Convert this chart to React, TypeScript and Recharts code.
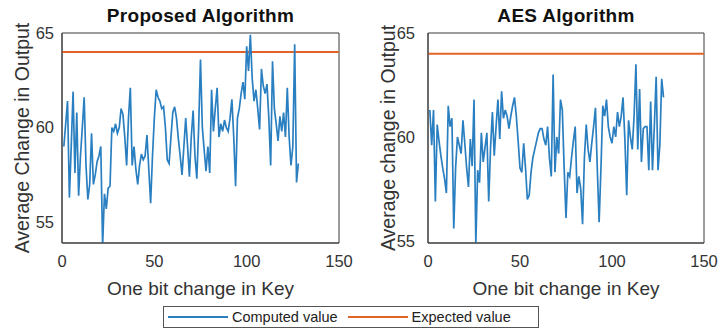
import React from "react";
import { LineChart, Line, XAxis, YAxis, ReferenceLine, ReferenceArea } from "recharts";

// average number of changed output bits when one key bit is flipped (bits 1..128)
const proposedValues = [
  59.0, 60.2, 61.4, 56.3, 59.0, 61.9, 57.6, 60.8, 56.4, 58.5, 60.0, 61.6, 58.0, 56.2, 57.0, 59.7,
  57.0, 57.5, 58.2, 58.5, 59.0, 53.8, 56.5, 55.7, 56.8, 56.9, 60.0, 59.8, 60.2, 59.7, 60.0, 61.0,
  60.7, 59.5, 58.0, 60.5, 62.1, 58.0, 59.0, 57.8, 57.0, 58.0, 58.6, 58.3, 58.5, 59.6, 57.8, 56.0,
  58.5, 60.5, 62.0, 61.6, 61.4, 61.0, 61.1, 60.0, 58.3, 58.1, 59.5, 60.8, 61.1, 60.5, 59.4, 58.5,
  57.5, 59.0, 60.5, 59.0, 57.4, 59.5, 60.9, 58.5, 57.3, 60.0, 63.6, 60.0, 58.8, 57.7, 59.0, 57.6,
  62.0, 59.8, 61.0, 62.1, 59.5, 60.2, 59.8, 60.4, 60.0, 59.8, 60.5, 61.5, 59.5, 56.9, 60.5, 61.0,
  61.8, 62.4, 61.5, 64.3, 63.0, 64.9, 62.6, 61.4, 62.0, 61.0, 59.9, 63.1, 62.2, 61.8, 62.3, 60.5,
  58.0, 63.5, 61.0, 60.2, 59.3, 60.6, 59.8, 60.8, 59.5, 62.1, 59.5, 58.0, 59.0, 64.4, 57.1, 58.1,
];

const aesValues = [
  61.3, 59.6, 61.3, 56.9, 60.6, 59.8, 59.1, 58.5, 58.0, 57.3, 61.5, 60.5, 60.9, 55.6, 58.5, 60.0,
  59.6, 59.2, 60.8, 59.7, 58.5, 57.6, 59.9, 58.6, 61.8, 54.9, 58.4, 57.8, 60.2, 58.8, 59.5, 60.2,
  56.9, 59.5, 61.2, 59.1, 60.5, 61.8, 59.9, 62.2, 60.9, 61.3, 61.0, 60.4, 61.0, 61.5, 61.9, 61.0,
  59.8, 58.5, 58.3, 59.7, 58.5, 57.0, 57.2, 58.3, 59.0, 59.4, 59.8, 60.2, 60.4, 60.4, 59.9, 59.6,
  60.5, 59.0, 58.1, 63.0, 58.3, 60.0, 59.2, 61.8, 61.3, 58.5, 56.1, 58.3, 58.1, 59.0, 59.8, 60.5,
  57.3, 58.1, 57.5, 55.8, 59.0, 60.6, 59.4, 58.8, 59.7, 60.5, 61.4, 58.5, 55.9, 58.5, 61.5, 61.0,
  61.8, 60.5, 60.0, 59.7, 60.5, 60.0, 61.2, 60.5, 61.0, 61.9, 59.9, 57.2, 60.8, 60.0, 59.4, 61.0,
  63.5, 59.4, 62.3, 58.8, 60.4, 60.5, 60.5, 58.4, 61.7, 58.4, 60.5, 62.9, 58.4, 59.6, 62.8, 61.9,
];

const expectedValue = 64;
const xTicks = [0, 50, 100, 150];
const proposedYTicks = [55, 60, 65];
const aesYTicks = [55, 60, 65];

const proposedData = proposedValues.map((v, i) => ({ bit: i + 1, value: v }));
const aesData = aesValues.map((v, i) => ({ bit: i + 1, value: v }));

const BLUE = "#2a7fc1";
const ORANGE = "#e0632a";
const AXIS = "#3a3a3a";
const TEXT = "#333";
const FONT = "'Liberation Sans', Arial, sans-serif";

interface PanelProps {
  data: { bit: number; value: number }[];
  title: string;
  yLabel: string;
  yDomain: [number, number];
  yTicks: number[];
  left: number;
  width: number;
  rightMargin: number;
  yAxisWidth: number;
  yLabelX: number;
  yTickMargin: number;
}

function Panel({ data, title, yLabel, yDomain, yTicks, left, width, rightMargin, yAxisWidth, yLabelX, yTickMargin }: PanelProps) {
  const plotLeft = yAxisWidth;
  const plotRight = width - rightMargin;
  return (
    <div style={{ position: "absolute", left, top: 0, width, height: 300 }}>
      <div
        style={{
          position: "absolute",
          top: 5,
          left: plotLeft,
          width: plotRight - plotLeft,
          textAlign: "center",
          fontFamily: FONT,
          fontWeight: "bold",
          fontSize: 19,
          color: "#111",
          letterSpacing: 0.3,
        }}
      >
        {title}
      </div>
      <LineChart width={width} height={300} data={data} margin={{ top: 33, right: rightMargin, bottom: 0, left: 0 }}>
        <XAxis
          dataKey="bit"
          type="number"
          domain={[0, 150]}
          ticks={xTicks}
          tickLine={false}
          tickMargin={6}
          height={57}
          stroke={AXIS}
          tick={{ fontSize: 16.5, fill: TEXT, fontFamily: FONT }}
          label={{ value: "One bit change in Key", position: "insideBottom", offset: 5, style: { fontSize: 19, fill: TEXT, fontFamily: FONT } }}
        />
        <YAxis
          type="number"
          domain={yDomain}
          ticks={yTicks}
          allowDataOverflow
          width={yAxisWidth}
          tickLine={false}
          tickMargin={yTickMargin}
          stroke={AXIS}
          tick={{ fontSize: 16.5, fill: TEXT, fontFamily: FONT }}
          label={{
            value: yLabel,
            angle: -90,
            position: "insideLeft",
            offset: yLabelX,
            style: { textAnchor: "middle", fontSize: 19.5, fill: TEXT, fontFamily: FONT },
          }}
        />
        <ReferenceArea x1={0} x2={150} y1={yDomain[0]} y2={yDomain[1]} fill="none" stroke={AXIS} strokeWidth={1} />
        <ReferenceLine y={expectedValue} stroke={ORANGE} strokeWidth={2} ifOverflow="hidden" />
        <Line type="linear" dataKey="value" stroke={BLUE} strokeWidth={1.7} dot={false} isAnimationActive={false} />
      </LineChart>
    </div>
  );
}

export default function App() {
  return (
    <div style={{ position: "absolute", left: 0, top: 0, width: 719, height: 331, background: "#fff", overflow: "hidden" }}>
      <Panel
        data={proposedData}
        title="Proposed Algorithm"
        yLabel="Average Change in Output"
        yDomain={[53.9, 65]}
        yTicks={proposedYTicks}
        left={0}
        width={360}
        rightMargin={21}
        yAxisWidth={62}
        yLabelX={22}
        yTickMargin={2}
      />
      <Panel
        data={aesData}
        title="AES Algorithm"
        yLabel="Average change in Output"
        yDomain={[54.9, 65]}
        yTicks={aesYTicks}
        left={360}
        width={359}
        rightMargin={15}
        yAxisWidth={68}
        yLabelX={28}
        yTickMargin={7}
      />
      <div
        style={{
          position: "absolute",
          left: 163,
          top: 306,
          width: 376,
          height: 22,
          border: "1px solid #555",
          boxSizing: "border-box",
          display: "flex",
          alignItems: "center",
          fontFamily: FONT,
          fontSize: 14.5,
          color: "#222",
        }}
      >
        <span style={{ display: "inline-block", width: 60, height: 2, background: BLUE, marginLeft: 4, marginRight: 4 }} />
        <span>Computed value</span>
        <span style={{ display: "inline-block", width: 60, height: 2, background: ORANGE, marginLeft: 10, marginRight: 4 }} />
        <span>Expected value</span>
      </div>
    </div>
  );
}
